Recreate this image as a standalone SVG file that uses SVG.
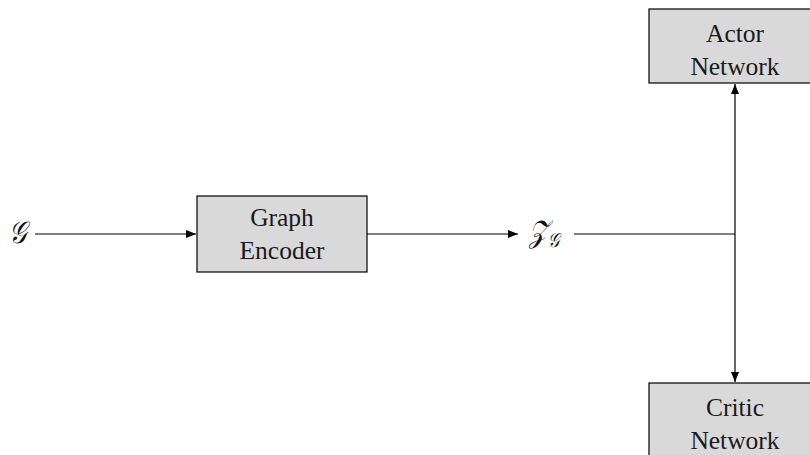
<svg xmlns="http://www.w3.org/2000/svg" width="810" height="455" viewBox="0 0 810 455">
  <style>
    .box { fill: #d9d9d9; stroke: #000; stroke-width: 1.2; }
    .lbl { font-family: "Liberation Serif", "Times New Roman", serif; font-size: 25.5px; fill: #1a1a1a; text-anchor: middle; }
    .math { font-family: "DejaVu Serif", "Liberation Serif", serif; font-style: italic; font-size: 31px; fill: #111; }
    .wire { stroke: #000; stroke-width: 1.2; fill: none; }
  </style>
  <defs>
    <marker id="arrow" markerWidth="10" markerHeight="8" refX="10" refY="4" orient="auto" markerUnits="userSpaceOnUse">
      <path d="M0,0 L10,4 L0,8 Z" fill="#000"/>
    </marker>
  </defs>
  <rect width="810" height="455" fill="#fff"/>

  <g id="connectors">
    <line class="wire" x1="35" y1="234" x2="196" y2="234" marker-end="url(#arrow)"/>
    <line class="wire" x1="367" y1="234" x2="518" y2="234" marker-end="url(#arrow)"/>
    <polyline class="wire" points="574,234 735,234"/>
    <line class="wire" x1="735" y1="234" x2="735" y2="84" marker-end="url(#arrow)"/>
    <line class="wire" x1="735" y1="234" x2="735" y2="382" marker-end="url(#arrow)"/>
  </g>

  <g id="input-graph">
    <text class="math" transform="translate(9,243) scale(0.8,1)">𝒢</text>
  </g>

  <g id="graph-encoder">
    <rect class="box" x="197" y="196" width="170" height="76"/>
    <text class="lbl" x="282" y="226">Graph</text>
    <text class="lbl" x="282" y="259">Encoder</text>
  </g>

  <g id="embedding">
    <text class="math" transform="translate(529,242) scale(0.8,1)">𝒵<tspan font-size="20" dy="5">𝒢</tspan></text>
  </g>

  <g id="actor-network">
    <rect class="box" x="649" y="9" width="172" height="74"/>
    <text class="lbl" x="735" y="42">Actor</text>
    <text class="lbl" x="735" y="75">Network</text>
  </g>

  <g id="critic-network">
    <rect class="box" x="649" y="383" width="172" height="80"/>
    <text class="lbl" x="735" y="416">Critic</text>
    <text class="lbl" x="735" y="449">Network</text>
  </g>
</svg>
